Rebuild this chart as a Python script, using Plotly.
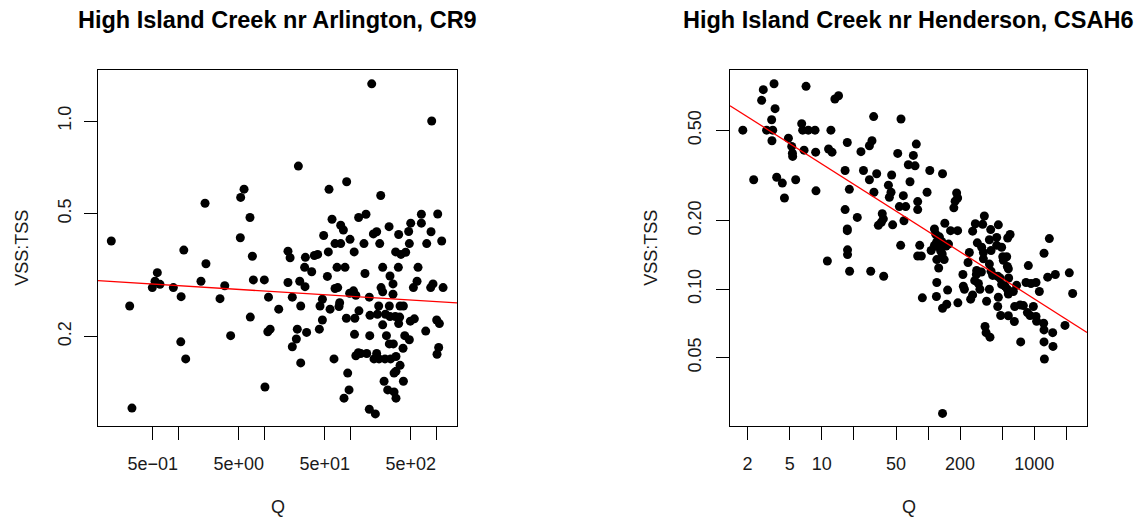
import numpy as np
import plotly.graph_objects as go

# ---------------- data ----------------
left_q = [176, 877, 24.7, 90, 56.1, 5.77, 5.27, 224, 2.03, 665, 1030, 6.76, 151, 124, 60.8, 500, 665,
          76.7, 82.4, 280, 473, 861, 201, 184, 362, 0.165, 5.22, 48.6, 1146, 98.4, 65.9, 76.7, 143, 218,
          482, 767, 1.15, 18.7, 19.8, 29.8, 37.9, 41.4, 55.1, 110, 334, 385, 437, 7.21, 2.08, 29.2, 35.3,
          69.5, 86.1, 236, 359, 608, 0.566, 147, 287, 53.7, 7.40, 9.93, 1.82, 18.7, 25.6, 29.5, 311, 592,
          908, 1189, 0.532, 0.608, 0.495, 0.869, 3.44, 65.9, 70.8, 226, 236, 537, 853, 97.5, 108, 115,
          311, 165, 1.07, 3.03, 11.1, 21.0, 47.0, 44.1, 0.270, 14.6, 26.3, 57.7, 73.3, 74.6, 212, 282,
          376, 411, 205, 254, 287, 331, 372, 168, 125, 89.3, 112, 6.82, 47.0, 236, 362, 495, 551, 1002,
          1077, 10.9, 11.6, 24.0, 30.8, 43.3, 111, 167, 261, 426, 482, 747, 4.03, 23.4, 1.06, 282, 314,
          407, 21.0, 1057, 1011, 1.21, 26.3, 64.1, 115, 123, 131, 154, 201, 187, 214, 251, 292, 337, 376,
          92.5, 320, 337, 245, 411, 10.1, 95.9, 270, 320, 337, 83.8, 0.287, 165, 194]
left_ratio = [1.32, 1.00, 0.714, 0.635, 0.600, 0.601, 0.565, 0.573, 0.541, 0.498, 0.499, 0.486, 0.498,
              0.486, 0.480, 0.466, 0.466, 0.459, 0.443, 0.454, 0.438, 0.437, 0.437, 0.430, 0.428, 0.408,
              0.418, 0.425, 0.408, 0.413, 0.400, 0.400, 0.400, 0.400, 0.400, 0.400, 0.381, 0.378, 0.360,
              0.361, 0.366, 0.369, 0.376, 0.376, 0.376, 0.369, 0.375, 0.364, 0.344, 0.335, 0.324, 0.335,
              0.335, 0.335, 0.335, 0.335, 0.322, 0.320, 0.314, 0.313, 0.305, 0.305, 0.302, 0.299, 0.302,
              0.290, 0.296, 0.302, 0.296, 0.288, 0.302, 0.295, 0.288, 0.288, 0.292, 0.286, 0.288, 0.288,
              0.279, 0.288, 0.288, 0.276, 0.281, 0.272, 0.274, 0.268, 0.269, 0.265, 0.268, 0.268, 0.264,
              0.251, 0.251, 0.245, 0.251, 0.245, 0.250, 0.257, 0.251, 0.251, 0.251, 0.251, 0.236, 0.236,
              0.232, 0.232, 0.231, 0.234, 0.242, 0.229, 0.229, 0.231, 0.226, 0.218, 0.220, 0.224, 0.228,
              0.226, 0.220, 0.207, 0.211, 0.211, 0.206, 0.211, 0.203, 0.201, 0.201, 0.201, 0.195, 0.208,
              0.201, 0.196, 0.192, 0.189, 0.189, 0.183, 0.185, 0.184, 0.175, 0.169, 0.164, 0.169, 0.173,
              0.177, 0.176, 0.176, 0.176, 0.169, 0.169, 0.169, 0.169, 0.172, 0.161, 0.152, 0.152, 0.154,
              0.143, 0.143, 0.137, 0.134, 0.134, 0.132, 0.126, 0.126, 0.117, 0.116, 0.112]

right_q = [3.56, 2.82, 7.12, 2.72, 13.3, 14.4, 3.64, 3.38, 30.8, 55.7, 1.81, 3.03, 3.46, 6.48, 6.62, 7.48,
           8.65, 12.2, 3.40, 4.86, 5.22, 5.33, 5.30, 17.4, 29.7, 28.1, 77.6, 6.82, 8.77, 11.6, 12.5, 23.4,
           51.9, 72.8, 65.3, 75.5, 16.6, 24.7, 32.9, 137, 104, 45.5, 28.1, 67.7, 2.29, 3.77, 4.26, 5.69,
           42.4, 18.2, 8.83, 4.46, 31.0, 44.9, 43.3, 58.6, 98, 186, 190, 80, 180, 175, 53.8, 61.7, 80, 16.6,
           21.6, 37.1, 38.0, 36.4, 34.1, 46.5, 59.4, 17.4, 17.4, 339, 279, 327, 459, 263, 389, 443, 378,
           562, 592, 1386, 115, 118, 128, 144, 163, 190, 121, 115, 123, 135, 148, 156, 132, 107, 83.6, 55.3,
           80, 86.5, 136, 121, 142, 126, 17.5, 17.5, 11.3, 245, 291, 320, 332, 493, 392, 443, 1235, 332,
           238, 378, 505, 550, 558, 879, 512, 570, 18.3, 28.9, 38.3, 213, 287, 285, 318, 392, 406, 453,
           476, 574, 1337, 1578, 2136, 121, 215, 220, 275, 298, 308, 378, 493, 531, 558, 682, 836, 931,
           1038, 1116, 2296, 88.5, 120, 153, 191, 150, 137, 252, 263, 356, 459, 570, 635, 453, 483, 570,
           649, 654, 735, 789, 861, 912, 980, 1038, 1052, 1225, 1235, 1490, 1945, 344, 352, 383, 745,
           1235, 1500, 1245, 137]
right_ratio = [0.802, 0.755, 0.781, 0.678, 0.687, 0.710, 0.623, 0.557, 0.575, 0.561, 0.501, 0.501, 0.501,
               0.535, 0.501, 0.501, 0.501, 0.501, 0.450, 0.462, 0.425, 0.384, 0.397, 0.442, 0.450, 0.428,
               0.435, 0.409, 0.401, 0.414, 0.401, 0.403, 0.396, 0.388, 0.353, 0.349, 0.333, 0.333, 0.322,
               0.322, 0.333, 0.318, 0.303, 0.297, 0.303, 0.311, 0.293, 0.303, 0.287, 0.275, 0.271, 0.252,
               0.267, 0.267, 0.254, 0.258, 0.267, 0.265, 0.252, 0.243, 0.244, 0.228, 0.231, 0.231, 0.224,
               0.224, 0.207, 0.215, 0.204, 0.197, 0.191, 0.192, 0.200, 0.184, 0.181, 0.210, 0.194, 0.193,
               0.192, 0.180, 0.183, 0.169, 0.165, 0.168, 0.174, 0.167, 0.184, 0.175, 0.170, 0.195, 0.181,
               0.181, 0.162, 0.156, 0.154, 0.162, 0.155, 0.158, 0.147, 0.148, 0.156, 0.156, 0.140, 0.140,
               0.143, 0.135, 0.135, 0.124, 0.149, 0.142, 0.133, 0.145, 0.160, 0.153, 0.145, 0.153, 0.148,
               0.156, 0.144, 0.136, 0.131, 0.129, 0.139, 0.139, 0.126, 0.127, 0.134, 0.123, 0.120, 0.120,
               0.114, 0.116, 0.121, 0.116, 0.119, 0.120, 0.115, 0.114, 0.112, 0.112, 0.113, 0.116, 0.118,
               0.107, 0.103, 0.100, 0.109, 0.106, 0.100, 0.100, 0.105, 0.103, 0.100, 0.104, 0.107, 0.106,
               0.107, 0.0977, 0.0957, 0.0916, 0.0929, 0.0991, 0.0871, 0.0859, 0.0824, 0.0904, 0.0944,
               0.0885, 0.0922, 0.0953, 0.0977, 0.0839, 0.0766, 0.0764, 0.0721, 0.0839, 0.0853, 0.0847,
               0.0789, 0.0766, 0.0839, 0.0759, 0.0723, 0.0708, 0.0662, 0.0644, 0.0693, 0.0685, 0.0644,
               0.0615, 0.0586, 0.0586, 0.0560, 0.0493, 0.0284]

# fitted log-log trend lines (ratio = a * Q^b)
left_fit_a, left_fit_b = 0.292, -0.0173
right_fit_a, right_fit_b = 0.705, -0.297

titles = ["High Island Creek nr Arlington, CR9", "High Island Creek nr Henderson, CSAH6"]
left_xticks = [0.5, 1, 5, 10, 50, 100, 500, 1000]
left_xlabels = ["5e\u221201", "", "5e+00", "", "5e+01", "", "5e+02", ""]
left_yticks = [0.2, 0.5, 1.0]
left_ylabels = ["0.2", "0.5", "1.0"]
right_xticks = [2, 5, 10, 20, 50, 100, 200, 500, 1000, 2000]
right_xlabels = ["2", "5", "10", "", "50", "", "200", "", "1000", ""]
right_yticks = [0.05, 0.1, 0.2, 0.5]
right_ylabels = ["0.05", "0.10", "0.20", "0.50"]

# ---------------- figure ----------------
W, H = 1147, 519
FONT = "Liberation Sans, Arial, sans-serif"
left_xrange = [-0.937, 3.237]
left_yrange = [-0.990, 0.1656]
right_xrange = [0.137, 3.496]
right_yrange = [-1.602, -0.0354]

fig = go.Figure()
marker = dict(color="black", size=9, line=dict(width=0))
fig.add_trace(go.Scatter(x=left_q, y=left_ratio, mode="markers", marker=marker,
                         xaxis="x", yaxis="y", showlegend=False))
fig.add_trace(go.Scatter(x=right_q, y=right_ratio, mode="markers", marker=marker,
                         xaxis="x2", yaxis="y2", showlegend=False))

lx = np.logspace(left_xrange[0], left_xrange[1], 50)
fig.add_trace(go.Scatter(x=lx, y=left_fit_a * lx ** left_fit_b, mode="lines",
                         line=dict(color="red", width=1.3), xaxis="x", yaxis="y", showlegend=False))
rx = np.logspace(right_xrange[0], right_xrange[1], 50)
fig.add_trace(go.Scatter(x=rx, y=right_fit_a * rx ** right_fit_b, mode="lines",
                         line=dict(color="red", width=1.3), xaxis="x2", yaxis="y2", showlegend=False))

ydom = [1 - 426 / H, 1 - 70 / H]
common = dict(type="log", showline=True, mirror=True, linecolor="black", linewidth=1,
              ticks="outside", ticklen=13, tickwidth=1, tickcolor="black", showgrid=False,
              zeroline=False, tickfont=dict(family=FONT, size=18, color="#1a1a1a"))
fig.update_layout(
    width=W, height=H, margin=dict(l=0, r=0, t=0, b=0),
    paper_bgcolor="white", plot_bgcolor="white",
    xaxis=dict(domain=[98 / W, 457 / W], range=left_xrange, tickvals=left_xticks,
               ticktext=left_xlabels, anchor="y", ticklabelstandoff=8, **common),
    yaxis=dict(domain=ydom, range=left_yrange, tickvals=left_yticks, ticktext=left_ylabels,
               anchor="x", tickangle=-90, ticklabelstandoff=6, **common),
    xaxis2=dict(domain=[730 / W, 1087 / W], range=right_xrange, tickvals=right_xticks,
                ticktext=right_xlabels, anchor="y2", ticklabelstandoff=8, **common),
    yaxis2=dict(domain=ydom, range=right_yrange, tickvals=right_yticks, ticktext=right_ylabels,
                anchor="x2", tickangle=-90, ticklabelstandoff=8, **common),
)

ann_font = dict(family=FONT, size=18, color="#1a1a1a")
centers = [277.5 / W, 908.5 / W]
for cx, t in zip(centers, titles):
    fig.add_annotation(text="<b>" + t + "</b>", x=cx, y=1 - 19.5 / H, xref="paper", yref="paper",
                       xanchor="center", yanchor="middle", showarrow=False,
                       font=dict(family=FONT, size=23.5, color="black"))
    fig.add_annotation(text="Q", x=cx, y=1 - 507 / H, xref="paper", yref="paper",
                       xanchor="center", yanchor="middle", showarrow=False, font=ann_font)
for lx_pos in [21.7 / W, 650.7 / W]:
    fig.add_annotation(text="VSS:TSS", x=lx_pos, y=1 - 248 / H, xref="paper", yref="paper",
                       xanchor="center", yanchor="middle", textangle=-90, showarrow=False,
                       font=ann_font)

fig.write_html("out.html")
